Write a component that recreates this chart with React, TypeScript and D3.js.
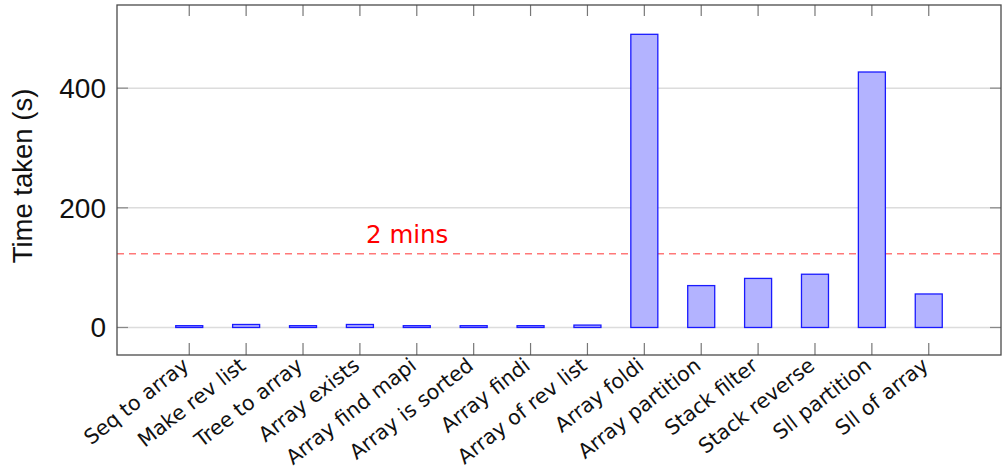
import React, { useEffect, useRef } from 'react';
import * as d3 from 'd3';

const categories = [
  'Seq to array',
  'Make rev list',
  'Tree to array',
  'Array exists',
  'Array find mapi',
  'Array is sorted',
  'Array findi',
  'Array of rev list',
  'Array foldi',
  'Array partition',
  'Stack filter',
  'Stack reverse',
  'Sll partition',
  'Sll of array',
];
const timeTaken = [3, 5, 3, 5, 3, 3, 3, 4, 490, 70, 82, 89, 427, 56];
const yTicks = [0, 200, 400];
const thresholdValue = 120;
const thresholdLabel = '2 mins';

const App = () => {
  const chartRef = useRef<SVGSVGElement>(null);

  useEffect(() => {
    drawChart();
  }, []);

  const drawChart = () => {
    const svg = d3.select(chartRef.current);
    svg.selectAll('*').remove();

    const left = 117;
    const right = 1001;
    const top = 5;
    const bottom = 355;

    const xScale = d3.scalePoint<string>().domain(categories).range([left, right]).padding(1.27);
    const yScale = d3.scaleLinear().domain([-46, 539]).range([bottom, top]);
    const barWidth = 27;

    // grid lines
    svg.selectAll('line.grid')
      .data(yTicks)
      .enter()
      .append('line')
      .attr('x1', left)
      .attr('x2', right)
      .attr('y1', d => yScale(d))
      .attr('y2', d => yScale(d))
      .attr('stroke', '#dcdcdc')
      .attr('stroke-width', 1.5);

    // y ticks on both sides
    yTicks.forEach(t => {
      svg.append('line')
        .attr('x1', left).attr('x2', left + 11)
        .attr('y1', yScale(t)).attr('y2', yScale(t))
        .attr('stroke', '#888').attr('stroke-width', 1.2);
      svg.append('line')
        .attr('x1', right - 11).attr('x2', right)
        .attr('y1', yScale(t)).attr('y2', yScale(t))
        .attr('stroke', '#888').attr('stroke-width', 1.2);
    });

    // x ticks top and bottom
    categories.forEach(c => {
      const x = xScale(c) as number;
      svg.append('line')
        .attr('x1', x).attr('x2', x)
        .attr('y1', bottom).attr('y2', bottom - 12)
        .attr('stroke', '#777').attr('stroke-width', 1.2);
      svg.append('line')
        .attr('x1', x).attr('x2', x)
        .attr('y1', top).attr('y2', top + 11)
        .attr('stroke', '#777').attr('stroke-width', 1.2);
    });

    // threshold line
    svg.append('line')
      .attr('x1', left)
      .attr('x2', right)
      .attr('y1', yScale(thresholdValue) - 2)
      .attr('y2', yScale(thresholdValue) - 2)
      .attr('stroke', '#ff7878')
      .attr('stroke-width', 1.5)
      .attr('stroke-dasharray', '7,5');

    svg.append('text')
      .attr('x', 366)
      .attr('y', 243)
      .attr('fill', '#ff0000')
      .attr('font-family', "'DejaVu Sans', sans-serif")
      .attr('font-size', 24.5)
      .text(thresholdLabel);

    // bars
    svg.selectAll('rect.bar')
      .data(timeTaken)
      .enter()
      .append('rect')
      .attr('x', (d, i) => (xScale(categories[i]) as number) - barWidth / 2)
      .attr('y', d => yScale(d))
      .attr('width', barWidth)
      .attr('height', d => yScale(0) - yScale(d))
      .attr('fill', '#b3b3ff')
      .attr('stroke', '#1a1aff')
      .attr('stroke-width', 1.3);

    // frame
    svg.append('rect')
      .attr('x', left)
      .attr('y', top)
      .attr('width', right - left)
      .attr('height', bottom - top)
      .attr('fill', 'none')
      .attr('stroke', '#4a4a4a')
      .attr('stroke-width', 1.3);

    // y tick labels
    svg.selectAll('text.ylab')
      .data(yTicks)
      .enter()
      .append('text')
      .attr('x', 106)
      .attr('y', d => yScale(d) + 10)
      .attr('text-anchor', 'end')
      .attr('font-family', "'Liberation Sans', Arial, sans-serif")
      .attr('font-size', 28)
      .attr('fill', '#111')
      .text(d => d);

    // y axis title
    svg.append('text')
      .attr('transform', 'translate(32,176) rotate(-90)')
      .attr('text-anchor', 'middle')
      .attr('font-family', "'Liberation Sans', Arial, sans-serif")
      .attr('font-size', 27.5)
      .attr('fill', '#111')
      .text('Time taken (s)');

    // x labels
    svg.selectAll('text.xlab')
      .data(categories)
      .enter()
      .append('text')
      .attr('transform', d => `translate(${(xScale(d) as number) + 1},368) rotate(-38)`)
      .attr('text-anchor', 'end')
      .attr('font-family', "'DejaVu Sans', sans-serif")
      .attr('font-size', 20.5)
      .attr('fill', '#111')
      .text(d => d);
  };

  return (
    <svg ref={chartRef} width={1003} height={472} style={{ position: 'absolute', left: 0, top: 0, background: '#fff' }}>
      {/* drawn by D3 */}
    </svg>
  );
};

export default App;
